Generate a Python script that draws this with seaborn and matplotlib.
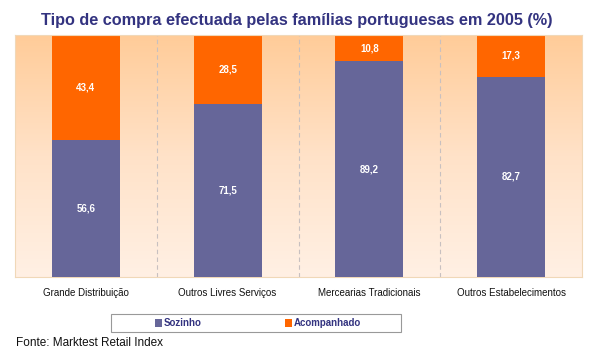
import numpy as np
import pandas as pd
import matplotlib
matplotlib.use("Agg")
import matplotlib.pyplot as plt
import seaborn as sns
from matplotlib.colors import LinearSegmentedColormap
from matplotlib.patches import Patch, Rectangle

categories = ["Grande Distribuição", "Outros Livres Serviços", "Mercearias Tradicionais", "Outros Estabelecimentos"]
sozinho = [56.6, 71.5, 89.2, 82.7]
acompanhado = [43.4, 28.5, 10.8, 17.3]
series_names = ["Sozinho", "Acompanhado"]

c_soz = "#666699"
c_acomp = "#FF6600"
navy = "#333380"

sns.set_theme(style="white")
plt.rcParams['font.family'] = ['Liberation Sans', 'DejaVu Sans']

df = pd.DataFrame({"cat": categories, "soz": sozinho, "acomp": acompanhado})
df["total"] = df["soz"] + df["acomp"]

fig = plt.figure(figsize=(5.95, 3.6), dpi=100)
ax = fig.add_axes([15/595, 1-277/360, 567/595, 242/360])

# gradient background
grad = np.linspace(0, 1, 256).reshape(-1, 1)
cmap = LinearSegmentedColormap.from_list("bg", ["#FFF0E4", "#FFE2C8", "#FFCC99"])
ax.imshow(grad, aspect="auto", cmap=cmap, extent=[-0.5, 3.5, 0, 100], origin="lower", zorder=0)

sns.barplot(data=df, x="cat", y="total", color=c_acomp, width=0.48, ax=ax,
            saturation=1, zorder=2, edgecolor="none")
sns.barplot(data=df, x="cat", y="soz", color=c_soz, width=0.48, ax=ax,
            saturation=1, zorder=3, edgecolor="none")

ax.set_xlim(-0.5, 3.5)
ax.set_ylim(0, 100)
for xb in [0.5, 1.5, 2.5]:
    ax.axvline(xb, color="#C8C0C0", lw=0.8, ls=(0, (4, 3)), zorder=1)

for i in range(len(categories)):
    s = sozinho[i]
    a = acompanhado[i]
    ax.text(i, s / 2, f"{s:.1f}".replace(".", ","), ha="center", va="center",
            color="white", fontsize=7, fontweight="bold", zorder=4)
    ax.text(i, s + a / 2, f"{a:.1f}".replace(".", ","), ha="center", va="center",
            color="white", fontsize=7, fontweight="bold", zorder=4)

ax.set_xlabel("")
ax.set_ylabel("")
ax.set_yticks([])
ax.set_xticks(range(4))
ax.set_xticklabels(categories, fontsize=7, color="#111111")
ax.tick_params(axis="x", length=0, pad=8)
for sp in ax.spines.values():
    sp.set_color("#F0D8B8")
    sp.set_linewidth(0.8)

fig.text(297/595, 1-20/360, "Tipo de compra efectuada pelas famílias portuguesas em 2005 (%)",
         ha="center", va="center", fontsize=11.7, color=navy, fontweight="bold")

# legend box
fig.patches.append(Rectangle((111/595, 1-332/360), 290/595, 18/360, transform=fig.transFigure,
                             facecolor="white", edgecolor="#999999", lw=0.8, zorder=1))
handles = [Patch(facecolor=c_soz, edgecolor="none"), Patch(facecolor=c_acomp, edgecolor="none")]
leg = fig.legend(handles, series_names, loc="center left", ncol=2,
                 bbox_to_anchor=(155/595, 1-323/360),
                 frameon=False, fontsize=7,
                 handlelength=0.7, handleheight=0.9, handletextpad=0.2,
                 columnspacing=8.6, borderpad=0, borderaxespad=0)
for t in leg.get_texts():
    t.set_color(navy)
    t.set_fontweight("bold")

fig.text(16/595, 1-343/360, "Fonte: Marktest Retail Index", ha="left", va="center",
         fontsize=8.5, color="#111111")

fig.savefig("out.png", dpi=100)
